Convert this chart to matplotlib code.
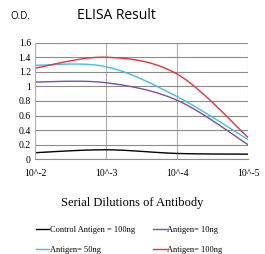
import numpy as np
import matplotlib
matplotlib.use("Agg")
import matplotlib.pyplot as plt

dilutions = ["10^-2", "10^-3", "10^-4", "10^-5"]
control_100ng = [0.09, 0.13, 0.08, 0.07]
antigen_10ng = [1.06, 1.05, 0.81, 0.20]
antigen_50ng = [1.29, 1.27, 0.86, 0.27]
antigen_100ng = [1.25, 1.40, 1.17, 0.30]

series = [
    ("Control Antigen = 100ng", control_100ng, "#000000"),
    ("Antigen= 10ng", antigen_10ng, "#7B4DAE"),
    ("Antigen= 50ng", antigen_50ng, "#3EC0E4"),
    ("Antigen= 100ng", antigen_100ng, "#E8313C"),
]


def smooth(xs, ys, n=40):
    xs = np.asarray(xs, float)
    ys = np.asarray(ys, float)
    P = np.column_stack([xs, ys])
    out = []
    m = len(P)
    for i in range(m - 1):
        p0 = P[i - 1] if i > 0 else P[i]
        p1 = P[i]
        p2 = P[i + 1]
        p3 = P[i + 2] if i + 2 < m else P[i + 1]
        c1 = p1 + (p2 - p0) / 6.0
        c2 = p2 - (p3 - p1) / 6.0
        t = np.linspace(0, 1, n)[:, None]
        b = (1 - t) ** 3 * p1 + 3 * (1 - t) ** 2 * t * c1 + 3 * (1 - t) * t ** 2 * c2 + t ** 3 * p2
        out.append(b if i == 0 else b[1:])
    b = np.vstack(out)
    return b[:, 0], b[:, 1]


fig = plt.figure(figsize=(2.65, 2.54), dpi=100)
ax = fig.add_axes([0.132, 0.373, 0.804, 0.459])

x = np.arange(len(dilutions))
handles = []
for label, vals, color in series:
    sx, sy = smooth(x, vals)
    h, = ax.plot(sx, sy, color=color, lw=1.0, label=label)
    handles.append(h)

ax.set_xlim(0, 3)
ax.set_ylim(0, 1.6)
ax.set_xticks(x)
ax.set_xticklabels(dilutions)
ax.set_yticks(np.arange(0, 1.61, 0.2))
ax.set_yticklabels(["0", "0.2", "0.4", "0.6", "0.8", "1", "1.2", "1.4", "1.6"])
for lab in ax.get_xticklabels() + ax.get_yticklabels():
    lab.set_fontfamily("Liberation Serif")
    lab.set_fontsize(7)
ax.tick_params(axis="y", length=0, pad=3)
ax.tick_params(axis="x", length=0, pad=7)
ax.yaxis.grid(True, color="#8c8c8c", lw=0.8)
ax.xaxis.grid(True, color="#b0b0b0", lw=0.8)
ax.set_axisbelow(True)
for s in ["top", "right"]:
    ax.spines[s].set_visible(False)
ax.spines["left"].set_color("#b0b0b0")
ax.spines["bottom"].set_color("#8c8c8c")
ax.spines["left"].set_linewidth(0.8)
ax.spines["bottom"].set_linewidth(0.8)

fig.text(0.44, 0.94, "ELISA Result", fontsize=10, family="Open Sans", ha="center", va="center")
fig.text(0.04, 0.935, "O.D.", fontsize=7, family="Open Sans", ha="left", va="center")
fig.text(0.5, 0.20, "Serial Dilutions of Antibody", fontsize=9, family="Liberation Serif",
         ha="center", va="center")

# legend filled row by row: (control, 10ng) / (50ng, 100ng)
order = [0, 2, 1, 3]
leg = fig.legend(handles=[handles[i] for i in order], loc="upper left",
                 bbox_to_anchor=(0.135, 0.112), ncol=2, borderpad=0, borderaxespad=0,
                 frameon=False, prop={"family": "Liberation Serif", "size": 6},
                 handlelength=1.6, handletextpad=0.1, columnspacing=2.2, labelspacing=1.45)

fig.savefig("out.png", dpi=100)
